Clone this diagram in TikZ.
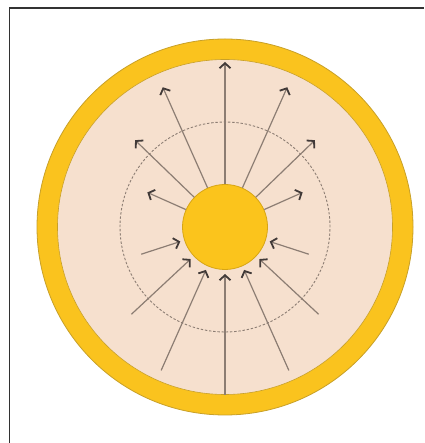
\documentclass[tikz,border=0pt]{standalone}
\usetikzlibrary{arrows.meta,calc}
\definecolor{ringgold}{RGB}{250,195,30}
\definecolor{ringedge}{RGB}{200,160,40}
\definecolor{peach}{RGB}{246,224,206}
\definecolor{sungold}{RGB}{251,196,28}
\definecolor{sunedge}{RGB}{215,165,20}
\definecolor{rayline}{RGB}{140,125,115}
\definecolor{raytip}{RGB}{65,58,56}
\definecolor{dashgray}{RGB}{140,125,115}
\definecolor{framegray}{RGB}{50,50,50}
\tikzset{
  ray/.style={draw=rayline, line width=1.2pt,
    -{Straight Barb[length=5pt,width=11pt,line width=1.8pt,color=raytip]}},
  frameline/.style={draw=framegray, line width=1.6pt},
}
\begin{document}
\begin{tikzpicture}[x=1pt,y=1pt]
\useasboundingbox (0,0) rectangle (424,443);
\fill[white] (0,0) rectangle (424,443);
% frame (left and top only)
\coordinate (fbl) at (9.5,0);
\coordinate (ftl) at (9.5,435);
\coordinate (ftr) at (424,435);
\draw[frameline] (fbl) -- (ftl) -- (ftr);
% centre
\coordinate (C) at (225,216);
% outer ring
\node[circle, minimum size=376pt, inner sep=0pt, fill=ringgold, draw=ringedge, line width=0.8pt] (outer) at (C) {};
\node[circle, minimum size=335pt, inner sep=0pt, fill=peach, draw=ringedge, line width=0.6pt] (inner) at (C) {};
% dashed circle
\node[circle, minimum size=210pt, inner sep=0pt, draw=dashgray, dash pattern=on 2.4pt off 1.8pt, line width=0.9pt] (dash) at (C) {};
% outward rays
\foreach \a/\r [count=\i] in {90/165, 114/153, 66/153, 136/125, 44/125, 156/85, 24/85}{
  \coordinate (o\i) at ($(C)+(\a:\r)$);
}
% inward ray tails and heads
\foreach \a/\r [count=\i] in {270/168, 246/157, 294/157, 223/128, 317/128, 198/88, 342/88}{
  \coordinate (t\i) at ($(C)+(\a:\r)$);
  \coordinate (h\i) at ($(C)+(\a:47)$);
}
% sun
\node[circle, minimum size=85pt, inner sep=0pt, fill=sungold, draw=sunedge, line width=0.8pt] (sun) at (C) {};
\draw[ray] (sun.90) -- (o1);
\draw[ray] (sun.114) -- (o2);
\draw[ray] (sun.66) -- (o3);
\draw[ray] (sun.136) -- (o4);
\draw[ray] (sun.44) -- (o5);
\draw[ray] (sun.156) -- (o6);
\draw[ray] (sun.24) -- (o7);
\draw[ray] (t1) -- (h1);
\draw[ray] (t2) -- (h2);
\draw[ray] (t3) -- (h3);
\draw[ray] (t4) -- (h4);
\draw[ray] (t5) -- (h5);
\draw[ray] (t6) -- (h6);
\draw[ray] (t7) -- (h7);
\end{tikzpicture}
\end{document}
